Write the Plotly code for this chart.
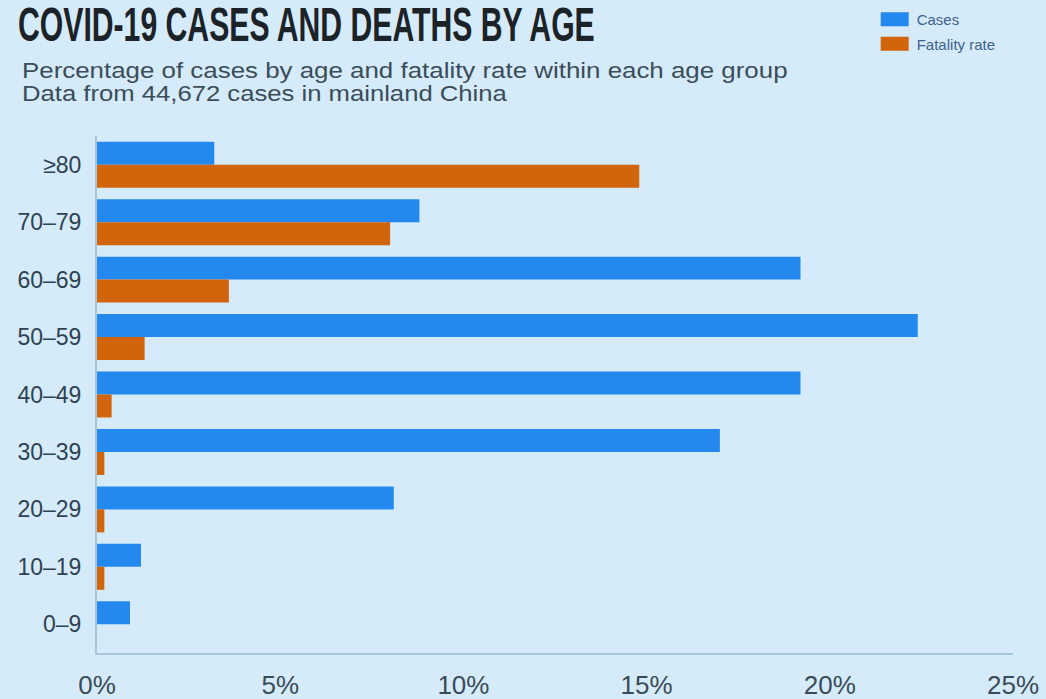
import plotly.graph_objects as go

age_groups = ["≥80", "70–79", "60–69", "50–59", "40–49", "30–39", "20–29", "10–19", "0–9"]
cases_pct = [3.2, 8.8, 19.2, 22.4, 19.2, 17.0, 8.1, 1.2, 0.9]
fatality_pct = [14.8, 8.0, 3.6, 1.3, 0.4, 0.2, 0.2, 0.2, 0.0]
x_ticks = [0, 5, 10, 15, 20, 25]
x_tick_labels = ["0%", "5%", "10%", "15%", "20%", "25%"]

BG = "#d5ebf9"
BLUE = "#2389ee"
ORANGE = "#d2650c"
AXIS = "#a7c6da"
BODY_FONT = "Liberation Sans, Arial, Helvetica, sans-serif"

fig = go.Figure()
fig.add_trace(go.Bar(y=age_groups, x=cases_pct, orientation="h", name="Cases",
                     legendgroup="a", marker=dict(color=BLUE, line=dict(width=0))))
fig.add_trace(go.Bar(y=age_groups, x=fatality_pct, orientation="h", name="Fatality rate",
                     legendgroup="b", marker=dict(color=ORANGE, line=dict(width=0))))

fig.update_layout(
    width=1046, height=699,
    paper_bgcolor=BG, plot_bgcolor=BG,
    margin=dict(l=97, r=33, t=136, b=46, autoexpand=False),
    barmode="group", bargap=0.2, bargroupgap=0,
    font=dict(family=BODY_FONT, color="#2f4453"),
    title=dict(text="<b>COVID-19 CASES AND DEATHS BY AGE</b>",
               font=dict(family="Liberation Sans, Arial, sans-serif", size=48, color="#1b2228"),
               x=18/1046, xanchor="left", xref="container",
               y=1-7/699, yanchor="top", yref="container"),
    legend=dict(x=0.8512, y=(653-3)/517, xanchor="left", yanchor="top",
                bgcolor="rgba(0,0,0,0)", font=dict(size=15, color="#41618a"),
                itemwidth=30, tracegroupgap=2, traceorder="grouped"),
    showlegend=True,
    annotations=[
        dict(text="Percentage of cases by age and fatality rate within each age group",
             xref="paper", yref="paper", x=-77/916, y=(653-71)/517, xanchor="left", yanchor="middle",
             showarrow=False, font=dict(size=22, color="#3b4d5a")),
        dict(text="Data from 44,672 cases in mainland China",
             xref="paper", yref="paper", x=-77/916, y=(653-94)/517, xanchor="left", yanchor="middle",
             showarrow=False, font=dict(size=22, color="#3b4d5a")),
    ],
)

fig.update_xaxes(range=[0, 25], tickvals=x_ticks, ticktext=x_tick_labels, automargin=False,
                 showgrid=False, zeroline=False, showline=True, linecolor=AXIS, linewidth=2,
                 ticks="", ticklabelstandoff=8, tickfont=dict(size=26, color="#3a4b57"))
fig.update_yaxes(autorange="reversed", showgrid=False, zeroline=False, automargin=False,
                 showline=True, linecolor=AXIS, linewidth=2,
                 ticks="", ticklabelstandoff=9, tickfont=dict(size=23, color="#2d4252"))

post_script = """
document.body.style.margin = '0';
var gd = document.getElementById('{plot_id}');
function stretch(el, target) {
  if (!el) return;
  var orig = el.getAttribute('data-orig-tf');
  if (orig === null) { orig = el.getAttribute('transform') || ''; el.setAttribute('data-orig-tf', orig); }
  el.setAttribute('transform', orig);
  var r0 = el.getBoundingClientRect();
  var s = target / r0.width;
  el.setAttribute('transform', 'scale(' + s + ',1) ' + orig);
  var r1 = el.getBoundingClientRect();
  el.setAttribute('transform', 'translate(' + (r0.left - r1.left) + ',0) scale(' + s + ',1) ' + orig);
}
function fix() {
  stretch(gd.querySelector('.gtitle'), 577);
  var ann = gd.querySelectorAll('.annotation-text');
  var widths = [766, 486];
  for (var i = 0; i < ann.length && i < widths.length; i++) stretch(ann[i], widths[i]);
  gd.querySelectorAll('.legendpoints path').forEach(function (p) {
    p.setAttribute('d', 'M12,7H-16V-7H12Z');
  });
}
fix();
[30, 150, 400, 1000, 2000].forEach(function (ms) { setTimeout(fix, ms); });
"""

fig.write_html("out.html", post_script=post_script, config={"displayModeBar": False})
